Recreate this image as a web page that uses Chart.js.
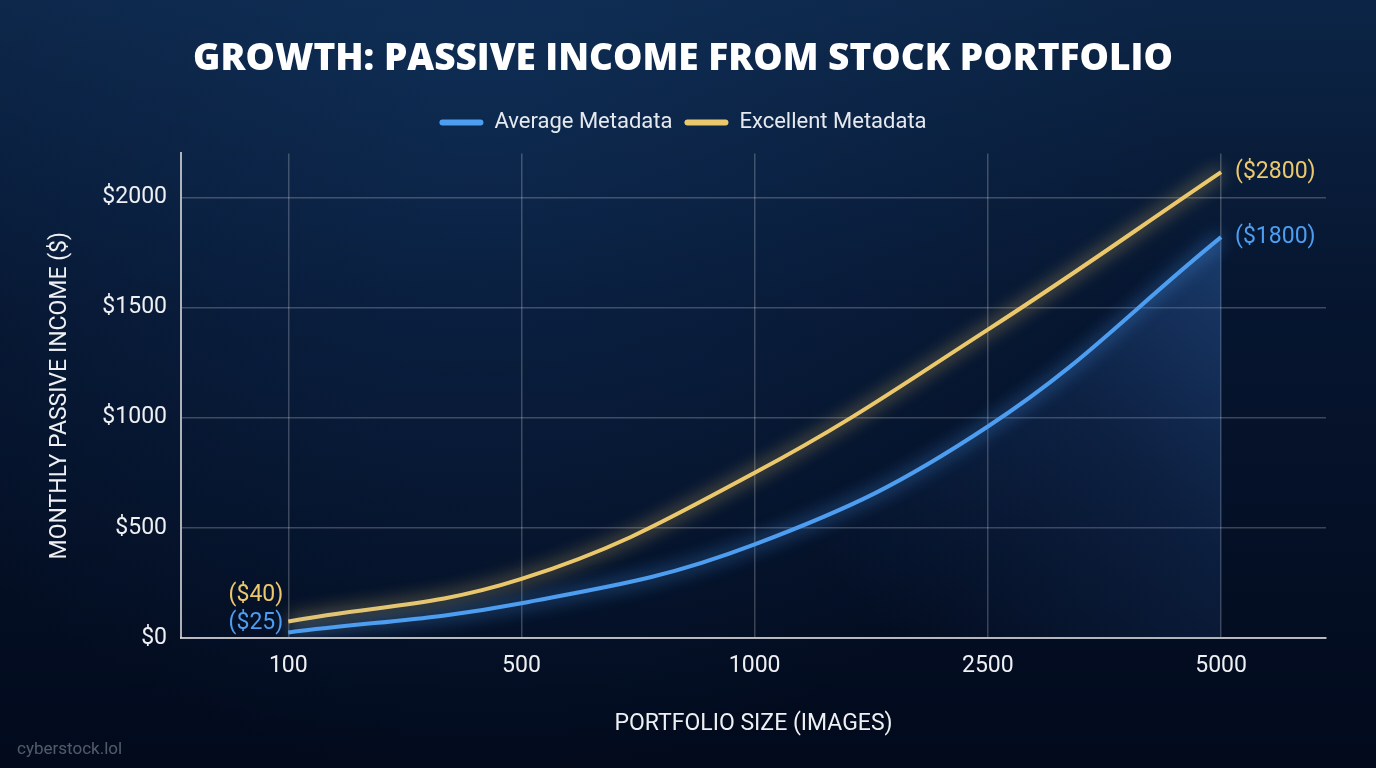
<!DOCTYPE html>
<html>
<head>
<meta charset="utf-8">
<script src="https://cdn.jsdelivr.net/npm/chart.js@4.4.1/dist/chart.umd.min.js"></script>
<style>
  html, body { margin: 0; padding: 0; background: #061329; }
  #wrap { width: 1376px; height: 768px; position: relative; }
</style>
</head>
<body>
<div id="wrap"><canvas id="growthChart" width="1376" height="768"></canvas></div>
<script>
// data
const portfolioSizes = ['100', '500', '1000', '2500', '5000'];
const averageIncome = [25, 158, 425, 960, 1820];
const excellentIncome = [75, 268, 750, 1400, 2115];
const averageLabels = ['($25)', '', '', '', '($1800)'];
const excellentLabels = ['($40)', '', '', '', '($2800)'];
const yTicks = [0, 500, 1000, 1500, 2000];

const BLUE = '#4d9df0';
const GOLD = '#ecc86c';
const FONT = 'Roboto, "Noto Sans", sans-serif';

// categories sit at evenly spaced positions 0..n-1
const toPoints = arr => arr.map((v, i) => ({ x: i, y: v }));

const ctx = document.getElementById('growthChart').getContext('2d');

// dark navy backdrop
const backdrop = {
    id: 'backdrop',
    beforeDraw(chart) {
        const c = chart.ctx;
        const w = chart.width, h = chart.height;
        c.save();
        let g = c.createLinearGradient(0, 0, 0, h);
        g.addColorStop(0, '#0c2546');
        g.addColorStop(0.4, '#06152f');
        g.addColorStop(1, '#020a1c');
        c.fillStyle = g;
        c.fillRect(0, 0, w, h);
        let r = c.createRadialGradient(w * 0.35, 80, 50, w * 0.35, 80, 700);
        r.addColorStop(0, 'rgba(20,60,110,0.35)');
        r.addColorStop(1, 'rgba(20,60,110,0)');
        c.fillStyle = r;
        c.fillRect(0, 0, w, h);
        c.restore();
    },
    afterDraw(chart) {
        const c = chart.ctx;
        c.save();
        c.font = '17px ' + FONT;
        c.fillStyle = 'rgba(200,210,225,0.4)';
        c.textBaseline = 'middle';
        c.fillText('cyberstock.lol', 17, 750);
        c.restore();
    }
};

// extra room under the legend
const legendGap = {
    id: 'legendGap',
    afterInit(chart) {
        const lg = chart.legend;
        const fit = lg.fit;
        lg.fit = function () {
            fit.call(this);
            this.height += 10;
        };
    }
};

// soft glow around the lines
const glow = {
    id: 'glow',
    beforeDatasetDraw(chart, args) {
        const ds = chart.data.datasets[args.index];
        chart.ctx.save();
        chart.ctx.shadowColor = ds.borderColor;
        chart.ctx.shadowBlur = 18;
    },
    afterDatasetDraw(chart) {
        chart.ctx.restore();
    }
};

// labels next to first and last points
const endLabels = {
    id: 'endLabels',
    afterDatasetsDraw(chart) {
        const c = chart.ctx;
        const sets = [
            { idx: 0, labels: averageLabels, color: BLUE, firstDy: -9 },
            { idx: 1, labels: excellentLabels, color: GOLD, firstDy: -26 }
        ];
        c.save();
        c.font = '23px ' + FONT;
        c.textBaseline = 'middle';
        sets.forEach(s => {
            const pts = chart.getDatasetMeta(s.idx).data;
            c.fillStyle = s.color;
            s.labels.forEach((txt, i) => {
                if (!txt) return;
                const p = pts[i];
                if (i === 0) {
                    c.textAlign = 'right';
                    c.fillText(txt, p.x - 5, p.y + s.firstDy);
                } else {
                    c.textAlign = 'left';
                    c.fillText(txt, p.x + 14, p.y);
                }
            });
        });
        c.restore();
    }
};

function blueFill(context) {
    const chart = context.chart;
    const area = chart.chartArea;
    if (!area) return 'rgba(0,0,0,0)';
    const yTop = chart.scales.y.getPixelForValue(averageIncome[averageIncome.length - 1]);
    const g = chart.ctx.createLinearGradient(area.right, yTop, area.left + (area.right - area.left) * 0.62, area.bottom);
    g.addColorStop(0, 'rgba(70,140,230,0.38)');
    g.addColorStop(0.5, 'rgba(60,120,210,0.14)');
    g.addColorStop(1, 'rgba(60,120,210,0)');
    return g;
}

const growthChart = new Chart(ctx, {
    type: 'line',
    data: {
        datasets: [{
            label: 'Average Metadata',
            data: toPoints(averageIncome),
            borderColor: BLUE,
            backgroundColor: blueFill,
            borderWidth: 4,
            fill: 'origin',
            tension: 0.4,
            pointRadius: 0
        }, {
            label: 'Excellent Metadata',
            data: toPoints(excellentIncome),
            borderColor: GOLD,
            backgroundColor: GOLD,
            borderWidth: 4,
            fill: false,
            tension: 0.4,
            pointRadius: 0
        }]
    },
    options: {
        responsive: false,
        animation: false,
        layout: { padding: { top: 0, right: 50, bottom: 30, left: 40 } },
        plugins: {
            title: {
                display: true,
                text: 'GROWTH: PASSIVE INCOME FROM STOCK PORTFOLIO',
                color: '#ffffff',
                font: { family: '"Open Sans", sans-serif', size: 37, weight: '800' },
                padding: { top: 37, bottom: 18 }
            },
            legend: {
                display: true,
                labels: {
                    color: '#e6e9ee',
                    font: { family: FONT, size: 22 },
                    boxWidth: 44,
                    boxHeight: 6,
                    padding: 12,
                    generateLabels(chart) {
                        return chart.data.datasets.map((ds, i) => ({
                            text: ds.label,
                            fillStyle: ds.borderColor,
                            strokeStyle: ds.borderColor,
                            lineWidth: 0,
                            borderRadius: 3,
                            fontColor: '#e6e9ee',
                            hidden: false,
                            datasetIndex: i
                        }));
                    }
                }
            },
            tooltip: { enabled: false }
        },
        scales: {
            x: {
                type: 'linear',
                min: -0.46,
                max: portfolioSizes.length - 1 + 0.45,
                grid: { color: 'rgba(255,255,255,0.22)', lineWidth: 1.5, drawTicks: false },
                border: { color: 'rgba(230,230,230,0.75)', width: 2 },
                ticks: {
                    color: '#eef0f3',
                    font: { family: FONT, size: 23 },
                    padding: 14,
                    callback: v => portfolioSizes[v]
                },
                afterBuildTicks(scale) {
                    scale.ticks = portfolioSizes.map((s, i) => ({ value: i }));
                },
                title: {
                    display: true,
                    text: 'PORTFOLIO SIZE (IMAGES)',
                    color: '#eef0f3',
                    font: { family: FONT, size: 23 },
                    padding: { top: 11, bottom: 0 }
                },
                afterFit(scale) { scale.height = 100; }
            },
            y: {
                min: 0,
                max: 2200,
                grid: { color: 'rgba(255,255,255,0.22)', lineWidth: 1.5, drawTicks: false },
                border: { color: 'rgba(230,230,230,0.75)', width: 2 },
                ticks: {
                    color: '#eef0f3',
                    font: { family: FONT, size: 23 },
                    padding: 14,
                    callback: v => '$' + v
                },
                afterBuildTicks(scale) {
                    scale.ticks = yTicks.map(v => ({ value: v }));
                },
                title: {
                    display: true,
                    text: 'MONTHLY PASSIVE INCOME ($)',
                    color: '#eef0f3',
                    font: { family: FONT, size: 23 },
                    padding: { top: 6, bottom: 0 }
                },
                afterFit(scale) { scale.width = 141; }
            }
        }
    },
    plugins: [backdrop, legendGap, glow, endLabels]
});
</script>
</body>
</html>
